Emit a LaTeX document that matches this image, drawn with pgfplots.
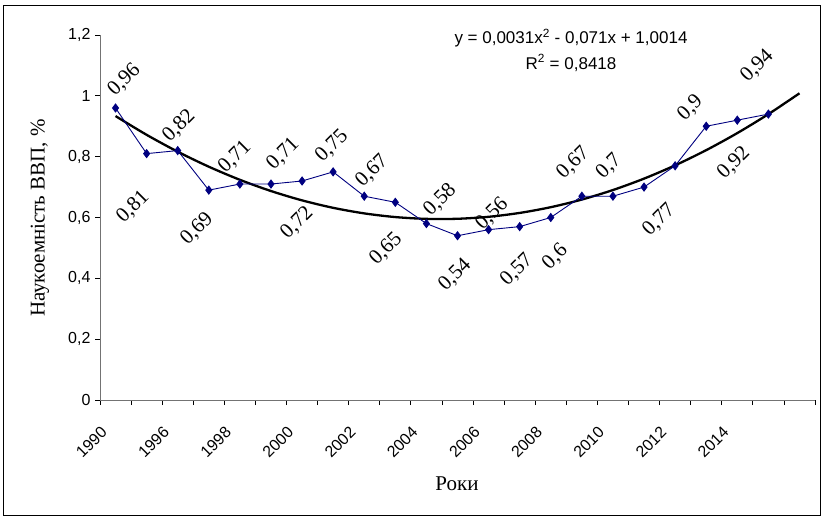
\documentclass[border=0pt]{standalone}
\usepackage{pgfplots}
\pgfplotsset{compat=1.18}
\usepackage{fontspec}
\setmainfont{Liberation Serif}
\setsansfont{Liberation Sans}
\definecolor{navyline}{HTML}{000080}
\begin{document}
\begin{tikzpicture}[x=1pt,y=1pt]
\path[use as bounding box] (0,0) rectangle (822,517);
\draw[black, line width=0.9pt] (3,2) rectangle (820.5,512);
\begin{axis}[
  at={(100pt,117pt)}, anchor=south west,
  scale only axis, width=715pt, height=365pt,
  xmin=-0.5, xmax=22.5, ymin=0, ymax=1.2,
  axis x line*=bottom, axis y line*=left,
  axis line style={-, black!55, line width=0.8pt},
  tick align=outside,
  major tick length=5pt, minor tick length=5pt,
  xtick={0,2,...,20},
  xticklabels={1990,1996,1998,2000,2002,2004,2006,2008,2010,2012,2014},
  minor xtick={-0.5,0.5,...,22.5},
  major x tick style={draw=none},
  minor x tick style={black, line width=0.8pt},
  ytick={0,0.2,...,1.2},
  y tick style={black, line width=0.8pt},
  /pgf/number format/.cd, use comma, fixed, assume math mode=true,
  /pgfplots/.cd,
  yticklabel style={font=\sffamily\fontsize{16}{18}\selectfont, xshift=-1pt},
  xticklabel style={font=\sffamily\fontsize{16}{18}\selectfont, rotate=45, anchor=north east, xshift=-22pt, yshift=0pt},
  clip=false,
]
% polynomial trend (Excel, forward 1 period), values at x = 1..23
\addplot[black, line width=2.3pt, smooth] coordinates {
(0,0.9335) (1,0.8718) (2,0.8163) (3,0.7670) (4,0.7239) (5,0.6870)
(6,0.6563) (7,0.6318) (8,0.6135) (9,0.6014) (10,0.5955) (11,0.5958)
(12,0.6023) (13,0.6150) (14,0.6339) (15,0.6590) (16,0.6903) (17,0.7278)
(18,0.7715) (19,0.8214) (20,0.8775) (21,0.9398) (22,1.0083)};
% data
\addplot[navyline, line width=0.9pt, mark=diamond*, mark size=4pt, mark options={fill=navyline, draw=navyline}] coordinates {
(0,0.96) (1,0.81) (2,0.82) (3,0.69) (4,0.71) (5,0.71) (6,0.72) (7,0.75)
(8,0.67) (9,0.65) (10,0.58) (11,0.54) (12,0.56) (13,0.57) (14,0.60)
(15,0.67) (16,0.67) (17,0.70) (18,0.77) (19,0.90) (20,0.92) (21,0.94)};
\begin{scope}[every node/.style={font=\rmfamily\fontsize{21}{23}\selectfont, rotate=45, inner sep=0pt}]
\node at (axis cs:0.28,1.052) {0,96};
\node at (axis cs:0.56,0.635) {0,81};
\node at (axis cs:2.04,0.901) {0,82};
\node at (axis cs:2.62,0.562) {0,69};
\node at (axis cs:3.84,0.799) {0,71};
\node at (axis cs:5.39,0.809) {0,71};
\node at (axis cs:5.84,0.582) {0,72};
\node at (axis cs:6.96,0.835) {0,75};
\node at (axis cs:8.25,0.753) {0,67};
\node at (axis cs:8.70,0.496) {0,65};
\node at (axis cs:10.44,0.657) {0,58};
\node at (axis cs:10.92,0.411) {0,54};
\node at (axis cs:12.11,0.611) {0,56};
\node at (axis cs:12.91,0.427) {0,57};
\node at (axis cs:14.14,0.470) {0,6};
\node at (axis cs:14.72,0.779) {0,67};
\node at (axis cs:15.87,0.769) {0,7};
\node at (axis cs:17.48,0.592) {0,77};
\node at (axis cs:18.49,0.960) {0,9};
\node at (axis cs:19.89,0.779) {0,92};
\node at (axis cs:20.64,1.098) {0,94};
\end{scope}
\end{axis}
\node[font=\sffamily\fontsize{17}{19}\selectfont] at (571,517-38) {y = 0,0031x\textsuperscript{2} - 0,071x + 1,0014};
\node[font=\sffamily\fontsize{17}{19}\selectfont] at (571,517-63) {R\textsuperscript{2} = 0,8418};
\node[font=\rmfamily\fontsize{21}{23}\selectfont] at (457,517-484) {Роки};
\node[font=\rmfamily\fontsize{21}{23}\selectfont, rotate=90] at (40,517-218) {Наукоемність ВВП, \%};
\end{tikzpicture}
\end{document}
